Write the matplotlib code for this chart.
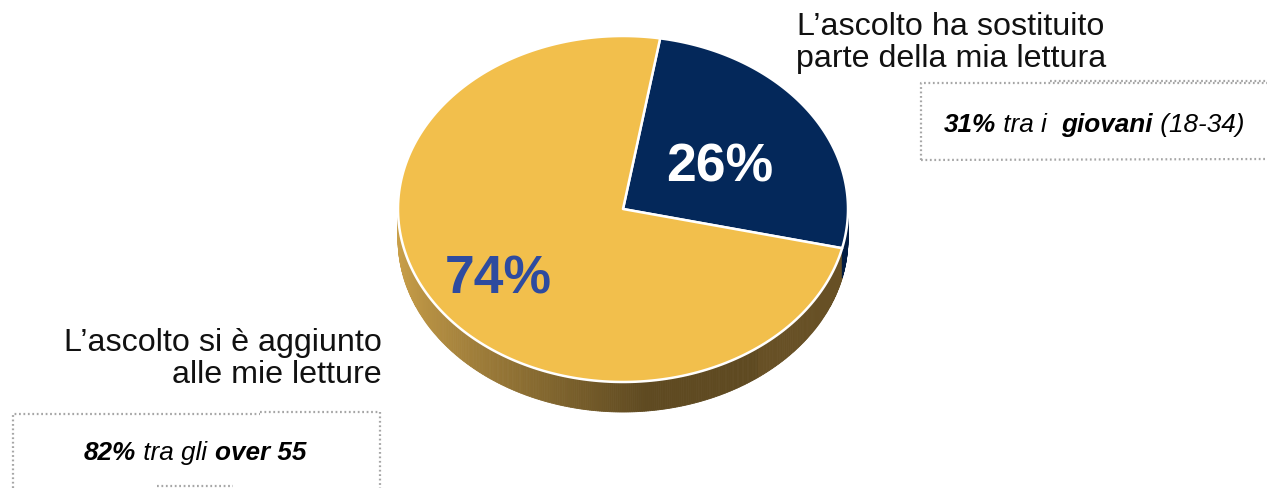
import numpy as np
from matplotlib import pyplot as plt
from matplotlib.patches import Polygon
from matplotlib.offsetbox import TextArea, HPacker, AnnotationBbox
from matplotlib.colors import to_rgb

plt.rcParams["font.family"] = ["Liberation Sans", "DejaVu Sans"]

# data
values = [26, 74]
pct_labels = ["26%", "74%"]
top_colors = ["#04285a", "#f2bf4c"]
side_colors = ["#021c42", None]
label_colors = ["white", "#2e4b9f"]
label_pos = [(720, 168), (498, 280)]

group_top = ["L\u2019ascolto ha sostituito", "parte della mia lettura"]
group_bottom = ["L\u2019ascolto si è aggiunto", "alle mie letture"]
note_top = [("31%", "bold"), (" tra i  ", "normal"), ("giovani", "bold"), (" (18-34)", "normal")]
note_bottom = [("82%", "bold"), (" tra gli ", "normal"), ("over 55", "bold")]

W, H = 1267, 489
fig = plt.figure(figsize=(W / 100, H / 100), dpi=100)
ax = fig.add_axes([0, 0, 1, 1])
ax.set_xlim(0, W)
ax.set_ylim(H, 0)
ax.axis("off")

cx, cy, rx, ry, depth = 623, 210, 225, 173, 30
start = 80.5


def pt(theta):
    t = np.radians(theta)
    return cx + rx * np.cos(t), cy - ry * np.sin(t)


# slice angle ranges, clockwise from start
bounds = []
a = start
for v in values:
    b = a - v / sum(values) * 360
    bounds.append((b, a))
    a = b

gold_light = np.array(to_rgb("#caa04a"))
gold_dark = np.array(to_rgb("#5f4a21"))


def side_color(theta):
    for (lo, hi), sc in zip(bounds, side_colors):
        th = theta
        while th > hi:
            th -= 360
        while th < lo:
            th += 360
        if lo <= th <= hi and sc is not None:
            return sc
    x, _ = pt(theta)
    f = np.clip((x - (cx - rx)) / (rx * 1.1), 0, 1) ** 0.8
    c = gold_light * (1 - f) + gold_dark * f
    if x > cx + 0.6 * rx:
        c = c + (np.array(to_rgb("#6e5628")) - c) * 0.5
    return tuple(c)


# side of the pie (front half)
thetas = np.linspace(180, 360, 361)
for t1, t2 in zip(thetas[:-1], thetas[1:]):
    x1, y1 = pt(t1)
    x2, y2 = pt(t2)
    col = side_color((t1 + t2) / 2)
    ax.add_patch(Polygon([(x1, y1), (x2, y2), (x2, y2 + depth), (x1, y1 + depth)],
                         closed=True, facecolor=col, edgecolor=col, lw=0.6))

# top face
for (lo, hi), col in zip(bounds, top_colors):
    th = np.linspace(lo, hi, 200)
    xs, ys = pt(th)
    verts = [(cx, cy)] + list(zip(xs, ys))
    ax.add_patch(Polygon(verts, closed=True, facecolor=col, edgecolor="white", lw=1.8,
                         joinstyle="round"))

for txt, pos, col in zip(pct_labels, label_pos, label_colors):
    ax.text(pos[0], pos[1], txt, ha="center", va="center", fontsize=38.5,
            fontweight="bold", color=col)

ax.text(951, 43, "\n".join(group_top), ha="center", va="center", fontsize=23.2,
        linespacing=1.08, color="#111111")
ax.text(382, 359, "\n".join(group_bottom), ha="right", va="center", fontsize=23.2,
        linespacing=1.08, color="#111111")

dot = dict(color="#a6a6a6", lw=1.6, ls=(0, (0.8, 1.2)))
# top-right note box
ax.plot([921, 921, 1267], [161, 84, 84], **dot)
ax.plot([1050, 1267], [82, 82], **dot)
ax.plot([921, 1267], [161, 160], **dot)
# bottom-left note box
ax.plot([13, 13, 260], [489, 415, 415], **dot)
ax.plot([260, 380, 380], [413, 413, 489], **dot)
ax.plot([157, 233], [487, 487], **dot)


def note(parts, xy):
    boxes = [TextArea(s, textprops=dict(fontsize=18.8, style="italic", fontweight=w,
                                        color="black")) for s, w in parts]
    pack = HPacker(children=boxes, align="baseline", pad=0, sep=0)
    ab = AnnotationBbox(pack, xy, xycoords="data", box_alignment=(0.5, 0.5),
                        frameon=False, pad=0)
    ax.add_artist(ab)


note(note_top, (1094, 125))
note(note_bottom, (195, 453))

fig.savefig("out.png", dpi=100)
